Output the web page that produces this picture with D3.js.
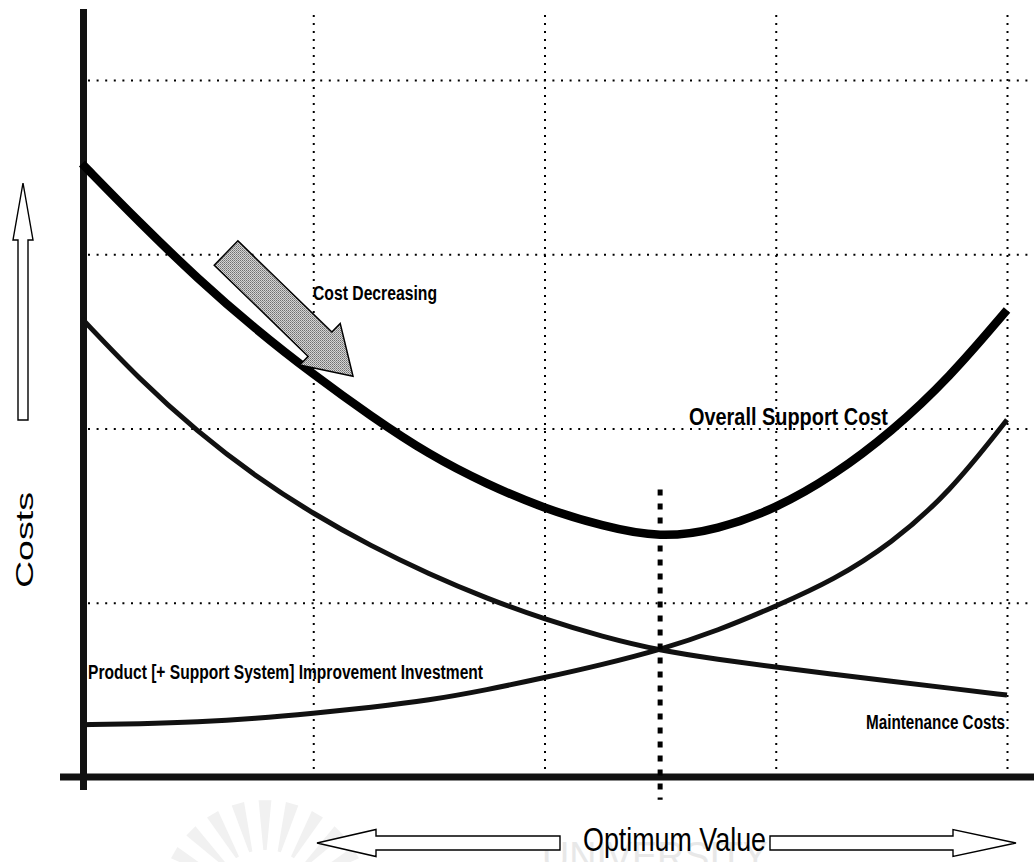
<!DOCTYPE html>
<html>
<head>
<meta charset="utf-8">
<script src="https://cdn.jsdelivr.net/npm/d3@7"></script>
<style>
  html, body { margin: 0; padding: 0; background: #fff; }
  svg { display: block; }
  text { font-family: "Liberation Sans Narrow", "Liberation Sans", Arial, sans-serif; fill: #000; }
</style>
</head>
<body>
<svg id="chart" width="1034" height="862"></svg>
<script>
// Support level along the horizontal axis (grid units) and the cost of each component
const xLevels = [0, 0.25, 0.5, 0.75, 1, 1.25, 1.5, 1.75, 2, 2.25, 2.5, 2.75, 3, 3.25, 3.5, 3.75, 4];
const overallSupportCost = [3.52, 3.18, 2.86, 2.57, 2.31, 2.07, 1.85, 1.68, 1.54, 1.44, 1.37, 1.42, 1.54, 1.73, 1.98, 2.29, 2.68];
const maintenanceCosts = [2.63, 2.28, 1.98, 1.725, 1.51, 1.325, 1.165, 1.025, 0.905, 0.805, 0.725, 0.675, 0.63, 0.59, 0.55, 0.51, 0.47];
const improvementInvestment = [0.30, 0.305, 0.315, 0.335, 0.365, 0.40, 0.44, 0.50, 0.57, 0.645, 0.73, 0.84, 0.98, 1.13, 1.34, 1.63, 2.05];
const gridValuesX = [1, 2, 3, 4];
const gridValuesY = [1, 2, 3, 4];
const optimumLevel = 2.5;

const svg = d3.select("#chart");
const W = 1034, H = 862;

const x = d3.scaleLinear().domain([0, 4]).range([82, 1007]);
const y = d3.scaleLinear().domain([0, 4]).range([777, 80]);

// stippled fill for the "cost decreasing" arrow
const defs = svg.append("defs");
const pat = defs.append("pattern").attr("id", "stipple")
  .attr("width", 2).attr("height", 2).attr("patternUnits", "userSpaceOnUse");
pat.append("rect").attr("width", 2).attr("height", 2).attr("fill", "#d4d4d4");
pat.append("rect").attr("x", 0).attr("y", 0).attr("width", 1).attr("height", 1).attr("fill", "#707070");
pat.append("rect").attr("x", 1).attr("y", 1).attr("width", 1).attr("height", 1).attr("fill", "#909090");

// faint watermark at the foot of the page
const wm = svg.append("g").attr("class", "watermark");
const fanCx = 265, fanCy = 905;
d3.range(-60, 61, 15).forEach(a => {
  const r0 = 55, r1 = 105, t = a * Math.PI / 180, dt = 3.5 * Math.PI / 180;
  const p = [
    [fanCx + r0 * Math.sin(t - dt / 2), fanCy - r0 * Math.cos(t - dt / 2)],
    [fanCx + r1 * Math.sin(t - dt), fanCy - r1 * Math.cos(t - dt)],
    [fanCx + r1 * Math.sin(t + dt), fanCy - r1 * Math.cos(t + dt)],
    [fanCx + r0 * Math.sin(t + dt / 2), fanCy - r0 * Math.cos(t + dt / 2)]
  ];
  wm.append("path").attr("d", d3.line()(p) + "Z").attr("fill", "#f1f1f1");
});
wm.append("text").attr("x", 542).attr("y", 870)
  .attr("font-size", 40).attr("textLength", 226).attr("lengthAdjust", "spacingAndGlyphs")
  .style("font-family", "'Liberation Sans', Arial, sans-serif")
  .style("fill", "#e8e8e8").text("UNIVERSITY");

// dotted grid
const gridY = d3.axisLeft(y).tickValues(gridValuesY).tickSize(-(W - 88)).tickFormat("");
svg.append("g").attr("transform", "translate(88,0)").call(gridY)
  .call(g => g.select(".domain").remove())
  .selectAll("line").attr("stroke", "#000").attr("stroke-width", 2).attr("stroke-dasharray", "2,6.6");

const gridX = d3.axisBottom(x).tickValues(gridValuesX).tickSize(-(y(0) - 9)).tickFormat("");
svg.append("g").attr("transform", `translate(0,${y(0)})`).call(gridX)
  .call(g => g.select(".domain").remove())
  .selectAll("line").attr("stroke", "#000").attr("stroke-width", 2).attr("stroke-dasharray", "2,6");

// axes
svg.append("line").attr("x1", 60).attr("x2", W).attr("y1", y(0)).attr("y2", y(0))
  .attr("stroke", "#111").attr("stroke-width", 7);
svg.append("line").attr("x1", x(0) + 1.5).attr("x2", x(0) + 1.5).attr("y1", 9).attr("y2", 790)
  .attr("stroke", "#111").attr("stroke-width", 7);

// cost curves
const line = vals => d3.line()
  .x((d, i) => x(xLevels[i]))
  .y(d => y(d))
  .curve(d3.curveBasis)(vals);

svg.append("path").attr("d", line(improvementInvestment))
  .attr("fill", "none").attr("stroke", "#111").attr("stroke-width", 5);
svg.append("path").attr("d", line(maintenanceCosts))
  .attr("fill", "none").attr("stroke", "#111").attr("stroke-width", 5);
svg.append("path").attr("d", line(overallSupportCost))
  .attr("fill", "none").attr("stroke", "#000").attr("stroke-width", 8.5);

// optimum marker
svg.append("line")
  .attr("x1", x(optimumLevel)).attr("x2", x(optimumLevel))
  .attr("y1", y(1.65)).attr("y2", y(-0.13))
  .attr("stroke", "#000").attr("stroke-width", 5).attr("stroke-dasharray", "6,8");

// "cost decreasing" block arrow
(function () {
  const tail = [x(0.623), y(3.007)], tip = [x(1.172), y(2.30)];
  const dx = tip[0] - tail[0], dy = tip[1] - tail[1];
  const len = Math.hypot(dx, dy), ux = dx / len, uy = dy / len, px = -uy, py = ux;
  const sw = 17, hw = 29, hl = 46;
  const at = (s, t) => [tail[0] + ux * s + px * t, tail[1] + uy * s + py * t];
  const pts = [at(0, -sw), at(len - hl, -sw), at(len - hl, -hw), at(len, 0),
               at(len - hl, hw), at(len - hl, sw), at(0, sw)];
  svg.append("path").attr("d", d3.line()(pts) + "Z")
    .attr("fill", "url(#stipple)").attr("stroke", "#000").attr("stroke-width", 1.5)
    .attr("stroke-linejoin", "miter");
})();

// outline arrows (costs up, optimum both ways)
function outlineArrow(x0, y0, x1, y1, sw, hw, hl) {
  const dx = x1 - x0, dy = y1 - y0, len = Math.hypot(dx, dy);
  const ux = dx / len, uy = dy / len, px = -uy, py = ux;
  const at = (s, t) => [x0 + ux * s + px * t, y0 + uy * s + py * t];
  const pts = [at(0, -sw), at(len - hl, -sw), at(len - hl, -hw), at(len, 0),
               at(len - hl, hw), at(len - hl, sw), at(0, sw)];
  svg.append("path").attr("d", d3.line()(pts) + "Z")
    .attr("fill", "#fff").attr("stroke", "#000").attr("stroke-width", 1.4);
}
outlineArrow(23, 420, 23, 183, 5, 10, 57);
outlineArrow(560, 843, 317, 843, 7, 13.5, 59);
outlineArrow(770, 843, 1016, 843, 7, 13.5, 63);

// labels
function label(txt, x0, yb, size, width, weight) {
  svg.append("text").attr("x", x0).attr("y", yb).attr("font-size", size)
    .attr("font-weight", weight || "bold")
    .attr("textLength", width).attr("lengthAdjust", "spacingAndGlyphs")
    .text(txt);
}
label("Cost Decreasing", 313, 300, 20, 124);
label("Overall Support Cost", 689, 425, 23, 199);
label("Product [+  Support System]  Improvement  Investment", 88, 679, 20, 395);
label("Maintenance Costs", 866, 729, 20, 139);
label("Optimum Value", 583, 851, 33, 183, "normal");

svg.append("text")
  .attr("transform", "translate(33,540) rotate(-90)")
  .attr("text-anchor", "middle").attr("font-size", 24)
  .attr("textLength", 96).attr("lengthAdjust", "spacingAndGlyphs")
  .style("font-family", "'Liberation Sans', Arial, sans-serif")
  .text("Costs");
</script>
</body>
</html>
